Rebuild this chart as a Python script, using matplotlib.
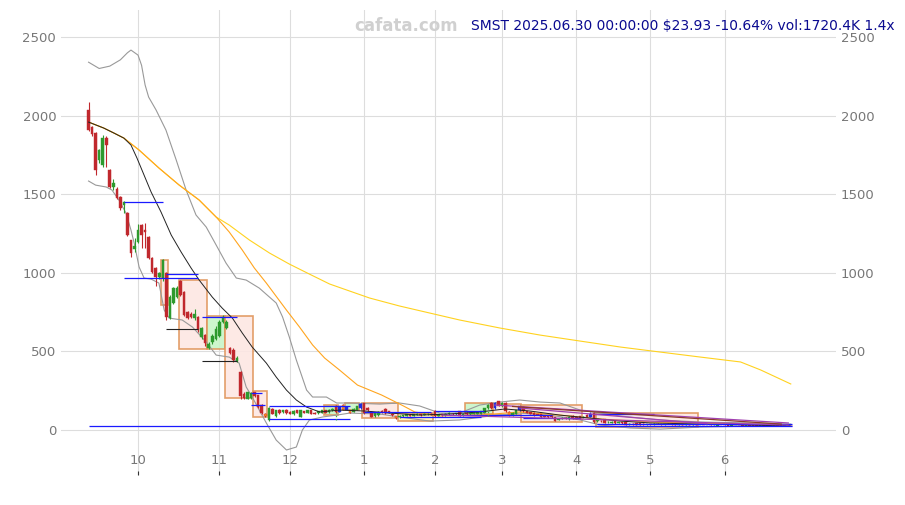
import matplotlib
matplotlib.use('Agg')
import matplotlib.pyplot as plt
from matplotlib.patches import Rectangle
import pandas as pd

# trading days, Sept 11 2024 .. June 30 2025
holidays = ['2024-11-28', '2024-12-25', '2025-01-01', '2025-01-09', '2025-01-20',
            '2025-02-17', '2025-04-18', '2025-05-26', '2025-06-19']
days = pd.bdate_range('2024-09-11', '2025-06-30')
days = days[~days.isin(pd.to_datetime(holidays))]

opens = [2035, 1927, 1889, 1717, 1686, 1857, 1654, 1546, 1533, 1482,
         1431, 1380, 1208, 1150, 1196, 1304, 1270, 1228, 1094, 1030,
         973, 967, 999, 712, 808, 846, 950, 878, 750, 740,
         715, 719, 592, 604, 522, 560, 580, 600, 690, 649,
         522, 509, 440, 369, 230, 200, 205, 240, 223, 159,
         100, 64, 134, 89, 130, 115, 130, 115, 100, 125,
         85, 120, 110, 125, 108, 108, 110, 125, 112, 128,
         150, 115, 160, 130, 125, 115, 130, 140, 172, 140,
         115, 88, 95, 118, 134, 120, 105, 89, 80, 88,
         92, 98, 92, 98, 102, 96, 100, 104, 120, 92,
         100, 95, 100, 105, 100, 120, 95, 108, 100, 102,
         105, 105, 110, 138, 175, 140, 182, 150, 175, 115,
         95, 105, 125, 145, 120, 112, 110, 100, 100, 90,
         90, 90, 80, 65, 72, 78, 70, 90, 85, 88,
         80, 95, 85, 108, 55, 60, 70, 48, 45, 55,
         45, 48, 50, 38, 40, 45, 42, 40, 36, 38,
         37, 40, 38, 36, 38, 40, 37, 35, 36, 34,
         35, 33, 34, 32, 33, 31, 32, 30, 28, 33,
         31, 32, 27, 30, 33, 34, 28, 29, 32, 31,
         27, 28, 27, 28, 27, 28, 28, 27, 28, 26.8]
closes = [1910, 1883, 1654, 1781, 1857, 1813, 1546, 1571, 1476, 1412,
          1450, 1240, 1126, 1170, 1272, 1240, 1260, 1094, 1005, 973,
          999, 1081, 720, 846, 903, 903, 860, 731, 712, 720,
          735, 636, 649, 553, 545, 600, 640, 690, 719, 687,
          490, 445, 460, 215, 205, 242, 238, 215, 146, 108,
          90, 140, 102, 127, 110, 125, 110, 105, 120, 110,
          125, 110, 125, 105, 104, 118, 125, 110, 130, 135,
          112, 150, 130, 145, 110, 135, 150, 168, 108, 125,
          83, 110, 115, 114, 108, 110, 95, 76, 90, 95,
          100, 92, 100, 104, 96, 102, 104, 98, 92, 100,
          95, 105, 108, 100, 106, 92, 105, 100, 108, 110,
          112, 120, 138, 162, 138, 175, 155, 170, 118, 95,
          110, 125, 150, 118, 110, 105, 95, 98, 80, 85,
          80, 80, 60, 72, 78, 74, 85, 75, 72, 72,
          85, 85, 105, 50, 68, 55, 45, 52, 52, 42,
          48, 44, 35, 40, 38, 35, 35, 36, 38, 37,
          40, 38, 36, 38, 40, 37, 35, 36, 34, 35,
          33, 34, 32, 33, 31, 32, 30, 31, 33, 31,
          30, 27, 31, 33, 31, 27, 29, 28, 26, 26,
          28, 27, 28, 27, 28, 27, 27, 28, 26.8, 23.93]
highs = [2086, 1935, 1895, 1790, 1880, 1870, 1660, 1600, 1545, 1490,
         1455, 1385, 1212, 1221, 1310, 1310, 1317, 1235, 1100, 1035,
         1005, 1085, 1005, 860, 910, 915, 954, 885, 760, 750,
         770, 725, 655, 610, 560, 610, 660, 700, 730, 700,
         530, 520, 470, 375, 240, 245, 240, 245, 225, 165,
         108, 145, 140, 130, 135, 130, 135, 122, 125, 130,
         128, 124, 130, 128, 112, 122, 128, 130, 134, 140,
         160, 155, 165, 150, 128, 138, 155, 172, 175, 145,
         118, 114, 118, 125, 138, 124, 108, 92, 93, 98,
         104, 102, 104, 108, 105, 106, 108, 108, 127, 104,
         104, 108, 112, 109, 110, 124, 109, 112, 112, 114,
         116, 124, 142, 168, 180, 180, 186, 176, 180, 118,
         114, 128, 155, 150, 124, 116, 114, 104, 104, 94,
         92, 93, 84, 76, 82, 82, 88, 93, 88, 92,
         89, 100, 112, 112, 72, 64, 72, 55, 55, 57,
         51, 50, 52, 43, 42, 47, 44, 42, 40, 40,
         42, 42, 40, 40, 42, 42, 39, 38, 38, 37,
         37, 36, 36, 35, 35, 34, 34, 33, 35, 35,
         33, 34, 33, 35, 35, 36, 31, 31, 33, 32,
         30, 30, 30, 30, 30, 30, 30, 30, 29.5, 27.5]
lows = [1900, 1870, 1622, 1700, 1675, 1673, 1540, 1530, 1470, 1400,
        1380, 1235, 1100, 1132, 1190, 1160, 1158, 1090, 1000, 915,
        960, 950, 700, 705, 800, 840, 850, 725, 705, 710,
        700, 625, 580, 535, 515, 550, 570, 595, 680, 640,
        485, 430, 430, 200, 200, 195, 200, 210, 140, 105,
        85, 60, 100, 85, 105, 110, 105, 100, 96, 106,
        80, 106, 106, 100, 100, 104, 106, 106, 108, 124,
        108, 112, 126, 126, 106, 112, 128, 136, 104, 120,
        80, 84, 92, 108, 104, 106, 90, 72, 76, 85,
        90, 88, 90, 95, 92, 94, 97, 95, 83, 89,
        92, 92, 97, 96, 97, 88, 92, 96, 97, 99,
        102, 102, 106, 134, 134, 136, 150, 146, 112, 90,
        92, 102, 120, 114, 106, 100, 90, 93, 76, 80,
        76, 76, 56, 62, 70, 70, 66, 72, 68, 68,
        77, 82, 82, 45, 50, 50, 42, 45, 43, 40,
        42, 41, 32, 35, 35, 33, 33, 34, 34, 35,
        35, 36, 34, 34, 36, 35, 33, 33, 32, 32,
        31, 31, 30, 30, 29, 29, 28, 28, 27, 29,
        28, 26, 26, 29, 29, 26, 26, 26, 25, 25,
        26, 25, 25, 25, 25, 25, 25, 25, 26, 23.5]

blue_days = [71, 73, 77, 115, 122, 142]
orange_days = [50, 72, 74, 87, 119]

# indicator lines (day index, price)
ma_fast_x = [0, 4.3, 7.2, 10, 12, 13.7, 15.7, 17.7, 20.5, 23.4, 26.2, 29, 31.3, 35, 37.8,
             40.7, 43.5, 46.3, 50.3, 53.1, 56, 58.8, 61.7, 65.4, 71, 78.1, 85.2, 93.7,
             102.2, 110.7, 117.8, 124.9, 133.4, 141.9, 150.5, 159, 173.2, 187.4, 198.7]
ma_fast_y = [1959, 1921, 1889, 1857, 1813, 1730, 1622, 1514, 1387, 1240, 1132, 1031, 954, 846, 776,
             712, 617, 528, 426, 337, 254, 191, 146, 115, 127, 121, 108, 95,
             102, 115, 134, 121, 95, 76, 57, 45, 38, 32, 25]
ma_mid_x = [0, 4.3, 7.2, 10, 14.3, 19.9, 25.6, 31.3, 36.1, 39.8, 43.5, 46.9, 50.3, 56, 59.7,
            63.4, 66.8, 71, 76.1, 82.9, 88.6, 92.3, 99.4, 110.7, 122, 133.4, 144.8, 159,
            173.2, 198.7]
ma_mid_y = [1959, 1921, 1889, 1857, 1781, 1667, 1559, 1463, 1355, 1260, 1145, 1031, 935, 763, 655,
            541, 458, 382, 286, 223, 159, 115, 89, 95, 115, 95, 70, 51,
            45, 32]
ma_slow_x = [0, 4.3, 7.2, 10, 14.3, 19.9, 25.6, 31.3, 36.1, 39.8, 45.5, 51.2, 56.8, 62.5, 68.2,
             73.9, 79.5, 88, 96.6, 105, 116.4, 127.8, 139.1, 150.5, 161.8, 173.2, 184.5,
             190.2, 198.7]
ma_slow_y = [1959, 1921, 1889, 1857, 1781, 1667, 1559, 1463, 1355, 1304, 1209, 1126, 1056, 992, 929,
             884, 840, 789, 744, 700, 649, 604, 566, 528, 496, 464, 433,
             382, 293]
band_up_x = [0, 3, 6, 9, 11, 12, 14, 15, 16, 17, 19.1, 21.9, 24.8, 27.6, 30.4, 33.3, 36.1,
             38.9, 41.8, 44.6, 48.3, 53.1, 54.9, 56.8, 58.8, 61.7, 63.4, 67.3, 70.2, 73.9,
             82.4, 88, 93.7, 99.4, 105, 110.7, 116.4, 122, 127.8, 133.4, 139.1, 144.8,
             150.5, 156.2, 161.8, 173.2, 187.4, 198.7]
band_up_y = [2340, 2300, 2315, 2355, 2400, 2417, 2385, 2320, 2195, 2118, 2036, 1908, 1718, 1527,
             1368, 1291, 1177, 1062, 967, 954, 903, 808, 719, 592, 445, 254, 210, 210, 172,
             172, 165, 172, 153, 108, 108, 159, 178, 191, 178, 172, 127, 108, 89, 76, 64,
             51, 45, 38]
band_lo_x = [0, 2, 5, 6.6, 8.6, 10.6, 12, 12.9, 14.3, 15.7, 17.7, 19.9, 21.4, 22.8, 26.5,
             29.4, 33.3, 36.1, 39.8, 42.6, 44.6, 46.3, 48.3, 50.3, 53.1, 56, 58.8, 60.5,
             62.5, 66.2, 70.2, 73.9, 82.4, 88, 96.6, 105, 113.6, 122, 130.6, 139.1, 144.8,
             153.3, 161.8, 173.2, 187.4, 198.7]
band_lo_y = [1584, 1558, 1546, 1527, 1463, 1380, 1272, 1190, 1037, 967, 960, 935, 763, 712, 700,
             655, 560, 477, 464, 426, 274, 210, 127, 45, -64, -127, -108, 0,
             64, 83, 95, 108, 102, 83, 57, 64, 89, 108, 95, 64, 32,
             13, 6, 19, 25, 25]

# consolidation boxes: first day, last day, low, high, kind
box_start = [21, 26, 34, 39, 47, 67, 73, 78, 88, 107, 115, 123, 144]
box_end = [22, 33, 38, 46, 50, 70, 76, 87, 97, 114, 122, 139, 172]
box_low = [795, 515, 515, 204, 83, 95, 127, 76, 55, 102, 95, 51, 19]
box_high = [1081, 954, 725, 725, 248, 159, 172, 172, 108, 172, 165, 159, 108]
box_kind = ['down', 'down', 'up', 'down', 'down', 'up', 'up', 'down', 'flat', 'up', 'down', 'down',
            'down']

# support / resistance segments: first day, last day, price
level_start = [10, 10, 22, 32, 46, 46, 51, 51, 78, 88, 98, 102, 123, 143, 144]
level_end = [21, 31, 31, 42, 49, 50, 74, 74, 97, 111, 112, 131, 139, 160, 199]
level_price = [1450, 967, 992, 719, 235, 159, 155, 70, 115, 83, 121, 95, 75, 100, 40]
dark_start = [22, 32]
dark_end = [31, 42]
dark_price = [643, 439]

# sloped trend lines: (day, price) -> (day, price)
trend_x0 = [115, 100, 122, 120]
trend_y0 = [159, 95, 140, 150]
trend_x1 = [198, 198, 175, 196]
trend_y1 = [45, 32, 40, 38]
trend_kind = ['purple', 'purple', 'purple', 'brown']

signal_days = [70, 113]

last_price = 23.93
title = 'SMST 2025.06.30 00:00:00 $23.93 -10.64% vol:1720.4K 1.4x'

n = len(closes)
x = list(range(n))

W, H = 905, 505
fig = plt.figure(figsize=(W / 100, H / 100), dpi=100)
ax = fig.add_axes([61 / W, 30 / H, (836 - 61) / W, 465 / H])

up_col = '#2e9a2e'
down_col = '#c0282d'

# boxes
fills = {'down': '#fde7e3', 'up': '#c8f5c8', 'flat': '#fff6b8'}
for s, e, lo, hi, k in zip(box_start, box_end, box_low, box_high, box_kind):
    ax.add_patch(Rectangle((s - 0.5, lo), e - s + 1, hi - lo, facecolor=fills[k],
                           edgecolor='#e0955a', linewidth=1.2, alpha=0.9, zorder=1))

# bands and averages
ax.plot(band_up_x, band_up_y, color='#999999', lw=0.8, zorder=2)
ax.plot(band_lo_x, band_lo_y, color='#999999', lw=0.8, zorder=2)
ax.plot(ma_slow_x, ma_slow_y, color='#ffd21f', lw=0.8, zorder=2)
ax.plot(ma_mid_x, ma_mid_y, color='#ffa51f', lw=0.8, zorder=2)

# candles
for i in x:
    o, c = opens[i], closes[i]
    if i in blue_days:
        col = '#1f2fe0'
    elif i in orange_days:
        col = '#ff9a1f'
    else:
        col = up_col if c >= o else down_col
    wick = col if i not in orange_days else down_col
    ax.vlines(i, lows[i], highs[i], color=wick, lw=0.8, zorder=3)
    ax.bar(i, max(abs(c - o), 2), bottom=min(o, c), width=0.72, color=col,
           edgecolor=wick, linewidth=0.3, zorder=3)

ax.plot(ma_fast_x, ma_fast_y, color='#222222', lw=0.7, zorder=4)

for s, e, p in zip(level_start, level_end, level_price):
    ax.hlines(p, s, e, color='#1a1aff', lw=0.9, zorder=5)
for s, e, p in zip(dark_start, dark_end, dark_price):
    ax.hlines(p, s, e, color='#222222', lw=0.8, zorder=5)
pal = {'purple': '#a040b0', 'brown': '#8b3a2a'}
for a, b, c, d, k in zip(trend_x0, trend_y0, trend_x1, trend_y1, trend_kind):
    ax.plot([a, c], [b, d], color=pal[k], lw=0.9, zorder=5)
for d in signal_days:
    ax.vlines(d, lows[d] - 45, lows[d], color='#3cb43c', lw=0.9, ls=':', zorder=5)
ax.hlines(last_price, 0, n - 1, color='#1a1aff', lw=0.9, zorder=5)

# axes cosmetics
ax.set_xlim(-7.8, 211.5)
ax.set_ylim(-286, 2672)
first_days = [i for i in range(1, n) if days[i].month != days[i - 1].month]
ax.set_xticks(first_days)
ax.set_xticklabels([str(days[i].month) for i in first_days])
ax.set_yticks([0, 500, 1000, 1500, 2000, 2500])
ax.grid(True, color='#dddddd', lw=0.8, zorder=0)
ax.set_axisbelow(True)
for sp in ax.spines.values():
    sp.set_visible(False)
ax.tick_params(axis='y', length=0, labelcolor='#777777', labelsize=9.5)
ax.tick_params(axis='x', direction='in', length=3, color='#333333', labelcolor='#777777',
               labelsize=9.5, pad=-15)

ax2 = ax.twinx()
ax2.set_ylim(ax.get_ylim())
ax2.set_yticks([0, 500, 1000, 1500, 2000, 2500])
for sp in ax2.spines.values():
    sp.set_visible(False)
ax2.tick_params(axis='y', length=0, labelcolor='#777777', labelsize=9.5)

fig.text(406 / W, 1 - 26 / H, 'cafata.com', color='#d0d0d0', fontsize=12, fontweight='bold',
         ha='center', va='center')
fig.text(895 / W, 1 - 26 / H, title, color='#0a0a90', fontsize=10, ha='right', va='center')

fig.savefig('out.png', dpi=100)
